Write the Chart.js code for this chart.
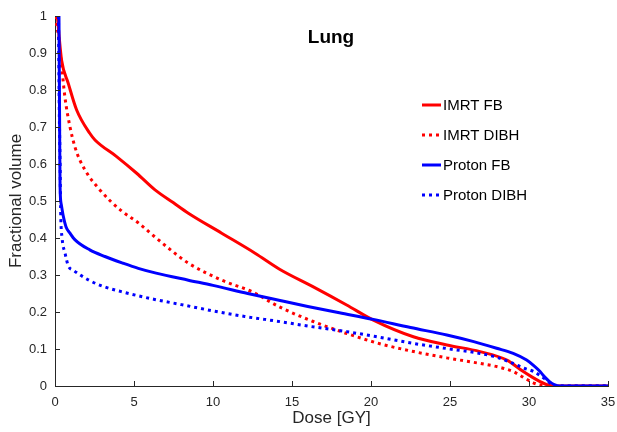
<!DOCTYPE html>
<html lang="en">
<head>
    <meta charset="UTF-8">
    <title>Lung DVH</title>
    <script src="https://cdn.jsdelivr.net/npm/chart.js"></script>
    <style>
        html, body { margin: 0; padding: 0; background: #fff; }
        #wrap { width: 617px; height: 432px; }
    </style>
</head>
<body>

    <div id="wrap">
        <canvas id="dvhChart"></canvas>
    </div>

    <script>
        // Données (dose en Gy, volume fractionnel)
        const seriesNames = ["IMRT FB", "IMRT DIBH", "Proton FB", "Proton DIBH"];

        const imrtFbDose = [0.15, 0.25, 0.42, 0.84, 1.37, 2.2, 2.53, 3.9, 5.17, 6.33, 7.5, 8.44, 10.55, 12.66, 14.24, 16.35, 18.46, 20.15, 22.68, 24.8, 26.9, 28.6, 29.64, 30.2, 30.7, 31.1, 31.5, 35];
        const imrtFbVol  = [1, 0.95, 0.88, 0.818, 0.746, 0.683, 0.665, 0.62, 0.575, 0.53, 0.495, 0.467, 0.413, 0.359, 0.315, 0.268, 0.219, 0.178, 0.133, 0.111, 0.093, 0.07, 0.039, 0.024, 0.012, 0.004, 0, 0];

        const imrtDibhDose = [0, 0.2, 0.42, 0.63, 0.95, 1.27, 1.58, 2.1, 2.7, 3.5, 4.25, 5.3, 6.35, 7.4, 8.44, 10.55, 12.45, 14.24, 16.3, 18.46, 20.5, 22.7, 24.8, 26.9, 28, 29, 29.7, 30.3, 30.8, 31.2, 35];
        const imrtDibhVol  = [1, 0.95, 0.865, 0.78, 0.7, 0.645, 0.61, 0.57, 0.537, 0.5, 0.472, 0.44, 0.402, 0.365, 0.332, 0.286, 0.255, 0.213, 0.175, 0.142, 0.115, 0.093, 0.076, 0.061, 0.052, 0.039, 0.022, 0.008, 0.002, 0, 0];

        const protonFbDose = [0.25, 0.28, 0.3, 0.32, 0.4, 0.53, 0.7, 0.95, 1.27, 2.2, 3.16, 4.3, 5.27, 6.4, 8.44, 10, 12.2, 14.24, 16, 18, 20.15, 22.5, 24.8, 26.5, 27.95, 29, 29.85, 30.3, 30.7, 31, 31.3, 31.6, 31.96, 35];
        const protonFbVol  = [1, 0.8, 0.65, 0.54, 0.49, 0.458, 0.43, 0.413, 0.395, 0.368, 0.35, 0.332, 0.318, 0.305, 0.286, 0.272, 0.25, 0.231, 0.215, 0.198, 0.18, 0.158, 0.138, 0.12, 0.102, 0.088, 0.07, 0.055, 0.039, 0.024, 0.012, 0.004, 0, 0];

        const protonDibhDose = [0.22, 0.27, 0.32, 0.36, 0.45, 0.63, 0.84, 1.16, 2.15, 3, 4.2, 6.3, 8, 10, 12, 14.24, 16, 18.46, 20.5, 22.7, 25, 26.9, 28, 29, 29.7, 30.3, 30.7, 31.1, 31.4, 31.7, 35];
        const protonDibhVol  = [1, 0.75, 0.61, 0.47, 0.4, 0.36, 0.325, 0.313, 0.286, 0.27, 0.255, 0.234, 0.22, 0.203, 0.188, 0.174, 0.162, 0.147, 0.132, 0.115, 0.1, 0.088, 0.077, 0.061, 0.048, 0.039, 0.028, 0.016, 0.006, 0, 0];

        const xTicks = [0, 5, 10, 15, 20, 25, 30, 35];
        const yTicks = [0, 0.1, 0.2, 0.3, 0.4, 0.5, 0.6, 0.7, 0.8, 0.9, 1];

        const red = '#ff0000';
        const blue = '#0000ff';
        const axisColor = '#262626';
        const dotted = [3, 4];
        const fontFamily = '"Liberation Sans", Arial, sans-serif';

        function toPoints(xs, ys) {
            return xs.map((x, i) => ({ x: x, y: ys[i] }));
        }

        // Titre, légende et graduations dessinés dans la zone du graphique (style MATLAB)
        const insidePlugin = {
            id: 'insideDecor',
            afterDraw(chart) {
                const ctx = chart.ctx;
                const area = chart.chartArea;
                const xs = chart.scales.x, ys = chart.scales.y;
                ctx.save();

                // petites graduations vers l'intérieur
                ctx.strokeStyle = axisColor;
                ctx.lineWidth = 1;
                xTicks.forEach(t => {
                    const px = Math.round(xs.getPixelForValue(t)) + 0.5;
                    ctx.beginPath();
                    ctx.moveTo(px, area.bottom);
                    ctx.lineTo(px, area.bottom - 5);
                    ctx.stroke();
                });
                yTicks.forEach(t => {
                    const py = Math.round(ys.getPixelForValue(t)) + 0.5;
                    ctx.beginPath();
                    ctx.moveTo(area.left, py);
                    ctx.lineTo(area.left + 5, py);
                    ctx.stroke();
                });

                // titre
                ctx.fillStyle = '#000';
                ctx.font = 'bold 19px ' + fontFamily;
                ctx.textAlign = 'center';
                ctx.textBaseline = 'middle';
                ctx.fillText('Lung', 331, 38);

                // légende
                ctx.font = '15px ' + fontFamily;
                ctx.textAlign = 'left';
                chart.data.datasets.forEach((ds, i) => {
                    const y = 105 + i * 30;
                    ctx.strokeStyle = ds.borderColor;
                    ctx.lineWidth = 3;
                    ctx.setLineDash(ds.borderDash || []);
                    ctx.beginPath();
                    ctx.moveTo(422, y);
                    ctx.lineTo(441, y);
                    ctx.stroke();
                    ctx.setLineDash([]);
                    ctx.fillStyle = '#000';
                    ctx.fillText(ds.label, 443, y + 1);
                });
                ctx.restore();
            }
        };

        const ctx1 = document.getElementById('dvhChart').getContext('2d');
        new Chart(ctx1, {
            type: 'line',
            data: {
                datasets: [
                    { label: seriesNames[0], data: toPoints(imrtFbDose, imrtFbVol), borderColor: red, order: 3 },
                    { label: seriesNames[1], data: toPoints(imrtDibhDose, imrtDibhVol), borderColor: red, borderDash: dotted, order: 4 },
                    { label: seriesNames[2], data: toPoints(protonFbDose, protonFbVol), borderColor: blue, order: 1 },
                    { label: seriesNames[3], data: toPoints(protonDibhDose, protonDibhVol), borderColor: blue, borderDash: dotted, order: 2 }
                ]
            },
            options: {
                responsive: true,
                maintainAspectRatio: false,
                animation: false,
                elements: {
                    point: { radius: 0 },
                    line: { borderWidth: 3, cubicInterpolationMode: 'monotone', fill: false }
                },
                layout: { padding: { top: 16, right: 9, left: 0, bottom: 0 } },
                plugins: {
                    legend: { display: false },
                    title: { display: false },
                    tooltip: { enabled: false }
                },
                scales: {
                    x: {
                        type: 'linear',
                        min: 0,
                        max: 35,
                        afterBuildTicks: s => { s.ticks = xTicks.map(v => ({ value: v })); },
                        afterFit: s => { s.height = 46; s.paddingLeft = 0; s.paddingRight = 0; },
                        grid: { display: false, drawTicks: false, tickLength: 0 },
                        border: { color: axisColor, width: 1 },
                        ticks: {
                            color: axisColor,
                            font: { family: fontFamily, size: 13 },
                            padding: 9,
                            maxRotation: 0
                        },
                        title: {
                            display: true,
                            text: 'Dose [GY]',
                            color: axisColor,
                            font: { family: fontFamily, size: 17 },
                            padding: { top: 0, bottom: 3 }
                        }
                    },
                    y: {
                        min: 0,
                        max: 1,
                        afterBuildTicks: s => { s.ticks = yTicks.map(v => ({ value: v })); },
                        afterFit: s => { s.width = 55; s.paddingTop = 0; s.paddingBottom = 0; },
                        grid: { display: false, drawTicks: false, tickLength: 0 },
                        border: { color: axisColor, width: 1 },
                        ticks: {
                            color: axisColor,
                            font: { family: fontFamily, size: 13 },
                            padding: 8,
                            callback: v => String(Math.round(v * 10) / 10)
                        },
                        title: {
                            display: true,
                            text: 'Fractional volume',
                            color: axisColor,
                            font: { family: fontFamily, size: 17 },
                            padding: { top: 6, bottom: 0 }
                        }
                    }
                }
            },
            plugins: [insidePlugin]
        });
    </script>
</body>
</html>
